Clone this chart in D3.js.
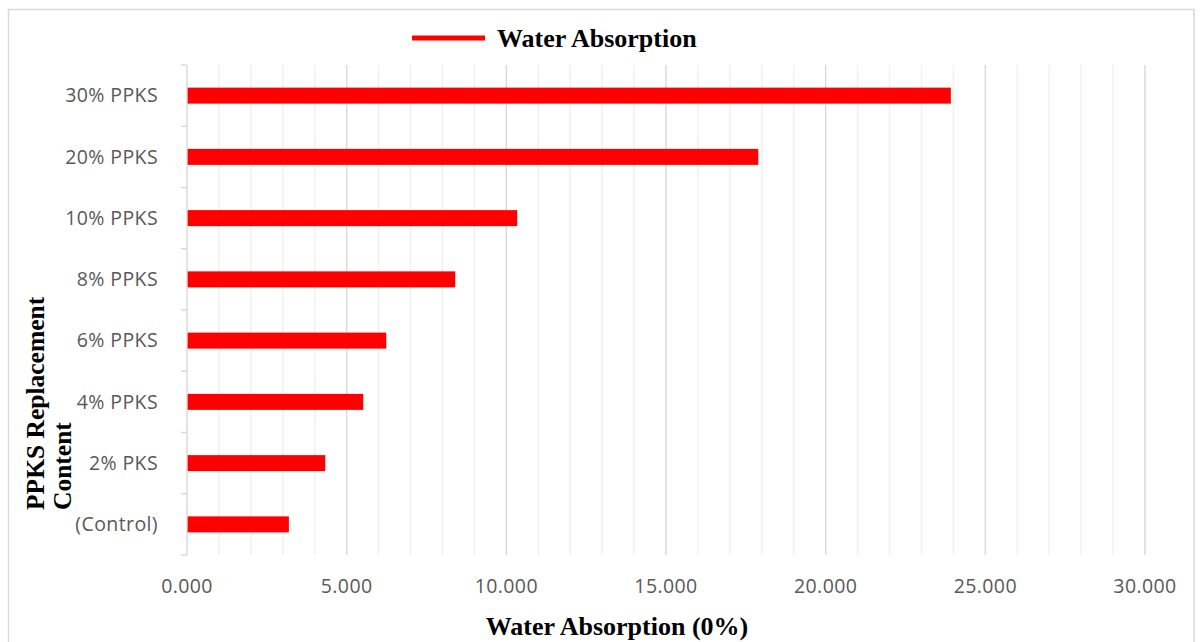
<!DOCTYPE html>
<html>
<head>
<meta charset="utf-8">
<script src="https://cdn.jsdelivr.net/npm/d3@7"></script>
<style>
  html, body { margin: 0; padding: 0; background: #fff; }
  svg { display: block; }
</style>
</head>
<body>
<svg id="chart" width="1200" height="642"></svg>
<script>
// ---- data ----
const categories = ["30% PPKS", "20% PPKS", "10% PPKS", "8% PPKS", "6% PPKS", "4% PPKS", "2% PKS", "(Control)"];
const values = [23.92, 17.89, 10.34, 8.40, 6.24, 5.52, 4.33, 3.19];
const seriesName = "Water Absorption";
const xTicks = [0, 5, 10, 15, 20, 25, 30];
const minorTicks = d3.range(0, 31, 1);
const xTitle = "Water Absorption (0%)";
const yTitleLines = ["PPKS Replacement", "Content"];

// ---- layout ----
const plot = { left: 187, right: 1145, top: 65, bottom: 555 };
const svg = d3.select("#chart");
const labelFont = "'Open Sans', sans-serif";
const titleFont = "'Liberation Serif', 'Times New Roman', serif";

// chart border
svg.append("rect")
  .attr("x", 8.5).attr("y", 9.5)
  .attr("width", 1185.5).attr("height", 650)
  .attr("fill", "none").attr("stroke", "#d9d9d9").attr("stroke-width", 1.5);

const x = d3.scaleLinear().domain([0, 30]).range([plot.left, plot.right]);
const y = d3.scaleBand().domain(categories).range([plot.top, plot.bottom]).paddingInner(0).paddingOuter(0);

// minor gridlines
svg.append("g").selectAll("line")
  .data(minorTicks.filter(d => d % 5 !== 0))
  .join("line")
  .attr("x1", d => x(d)).attr("x2", d => x(d))
  .attr("y1", plot.top).attr("y2", plot.bottom)
  .attr("stroke", "#f0f0f0").attr("stroke-width", 1.4);

// major gridlines
svg.append("g").selectAll("line")
  .data(xTicks.filter(d => d !== 0))
  .join("line")
  .attr("x1", d => x(d)).attr("x2", d => x(d))
  .attr("y1", plot.top).attr("y2", plot.bottom)
  .attr("stroke", "#d9d9d9").attr("stroke-width", 1.4);

// bars
const barH = 16;
svg.append("g").selectAll("rect")
  .data(categories)
  .join("rect")
  .attr("x", x(0))
  .attr("y", d => y(d) + y.bandwidth() / 2 - barH / 2)
  .attr("width", (d, i) => x(values[i]) - x(0))
  .attr("height", barH)
  .attr("fill", "#ff0000");

// y axis line with ticks at band boundaries
const yAxisG = svg.append("g");
yAxisG.append("line")
  .attr("x1", x(0)).attr("x2", x(0))
  .attr("y1", plot.top).attr("y2", plot.bottom)
  .attr("stroke", "#d9d9d9").attr("stroke-width", 1.4);
const boundaries = categories.map(c => y(c)).concat([plot.bottom]);
yAxisG.selectAll("line.tick")
  .data(boundaries)
  .join("line")
  .attr("class", "tick")
  .attr("x1", x(0) - 6).attr("x2", x(0))
  .attr("y1", d => d).attr("y2", d => d)
  .attr("stroke", "#d9d9d9").attr("stroke-width", 1.4);

// category labels
svg.append("g").selectAll("text")
  .data(categories)
  .join("text")
  .attr("x", 158)
  .attr("y", d => y(d) + y.bandwidth() / 2)
  .attr("dy", "0.35em")
  .attr("text-anchor", "end")
  .attr("font-family", labelFont)
  .attr("font-size", 19.5)
  .attr("letter-spacing", 0.4)
  .attr("fill", "#595959")
  .text(d => d);

// x tick labels
svg.append("g").selectAll("text")
  .data(xTicks)
  .join("text")
  .attr("x", d => x(d))
  .attr("y", 593)
  .attr("text-anchor", "middle")
  .attr("font-family", labelFont)
  .attr("font-size", 19.5)
  .attr("letter-spacing", 0.4)
  .attr("fill", "#595959")
  .text(d => d3.format(".3f")(d));

// x title
svg.append("text")
  .attr("x", 617).attr("y", 635)
  .attr("text-anchor", "middle")
  .attr("font-family", titleFont)
  .attr("font-weight", "bold")
  .attr("font-size", 26)
  .attr("fill", "#000")
  .text(xTitle);

// y title (two lines, rotated)
const yt = svg.append("text")
  .attr("transform", "translate(0,510) rotate(-90)")
  .attr("text-anchor", "start")
  .attr("font-family", titleFont)
  .attr("font-weight", "bold")
  .attr("font-size", 25.5)
  .attr("fill", "#000");
yt.append("tspan").attr("x", 0).attr("y", 44).text(yTitleLines[0]);
yt.append("tspan").attr("x", 0).attr("y", 71).text(yTitleLines[1]);

// legend
svg.append("line")
  .attr("x1", 412).attr("x2", 485)
  .attr("y1", 38).attr("y2", 38)
  .attr("stroke", "#ff0000").attr("stroke-width", 5);
svg.append("text")
  .attr("x", 497).attr("y", 47)
  .attr("font-family", titleFont)
  .attr("font-weight", "bold")
  .attr("font-size", 26)
  .attr("fill", "#000")
  .text(seriesName);
</script>
</body>
</html>
